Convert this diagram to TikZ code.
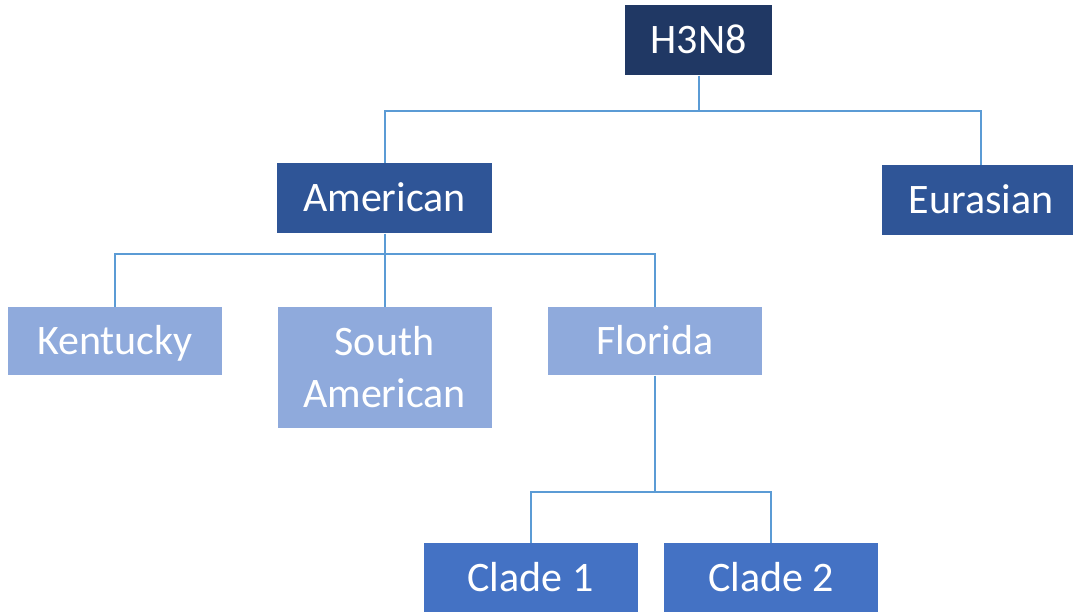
\documentclass[tikz,border=0pt]{standalone}
\usepackage{fontspec}
\setmainfont{Carlito}
\definecolor{navybox}{RGB}{32,56,100}
\definecolor{midbox}{RGB}{47,85,151}
\definecolor{lightbox}{RGB}{143,170,220}
\definecolor{cladebox}{RGB}{68,114,196}
\definecolor{treeline}{RGB}{91,155,213}
\tikzset{every picture/.style={line width=0.75pt}}
\tikzset{
  taxon/.style={rectangle, inner sep=0pt, text=white, align=center,
    font=\fontsize{31.5}{39}\selectfont, minimum width=160.5pt, minimum height=51.75pt},
  oneline/.style={text height=20.5pt, text depth=0pt},
  branch/.style={draw=treeline, line width=1.5pt}
}

\begin{document}
\begin{tikzpicture}[x=0.75pt,y=0.75pt,yscale=-1,xscale=1]
    %set diagram to 1073 x 614
    \useasboundingbox (0,0) rectangle (1073,614);
    \fill[white] (0,0) rectangle (1073,614);

    % Bus levels
    \coordinate (busA) at (0,111);
    \coordinate (busB) at (0,254);
    \coordinate (busC) at (0,492);

    % Top level
    \node [taxon, oneline, fill=navybox, minimum width=110.25pt, minimum height=52.5pt] (h3n8) at (698.5,40) {H3N8};
    % Second level
    \node [taxon, oneline, fill=midbox, minimum width=161.25pt, minimum height=52.5pt] (american) at (384.5,198) {American};
    \node [taxon, oneline, fill=midbox, minimum width=148.5pt, minimum height=52.5pt] (eurasian) at (981,200) {Eurasian};
    % Third level
    \node [taxon, oneline, fill=lightbox, minimum height=51pt] (kentucky) at (115,341) {Kentucky};
    \node [taxon, fill=lightbox, minimum height=90.75pt] (southam) at (384.5,367.5) {South\\American};
    \node [taxon, oneline, fill=lightbox, minimum height=51pt] (florida) at (655,341) {Florida};
    % Clades
    \node [taxon, oneline, fill=cladebox] (clade1) at (530.5,577.5) {Clade 1};
    \node [taxon, oneline, fill=cladebox] (clade2) at (771,577.5) {Clade 2};

    % Connectors
    \draw [branch] (h3n8.south) -- (h3n8.south |- busA) -| (american.north);
    \draw [branch] (h3n8.south |- busA) -| (eurasian.north);
    \draw [branch] (american.south) -- (american.south |- busB) -| (kentucky.north);
    \draw [branch] (american.south |- busB) -- (southam.north);
    \draw [branch] (american.south |- busB) -| (florida.north);
    \draw [branch] (florida.south) -- (florida.south |- busC) -| (clade1.north);
    \draw [branch] (florida.south |- busC) -| (clade2.north);

\end{tikzpicture}
\end{document}
